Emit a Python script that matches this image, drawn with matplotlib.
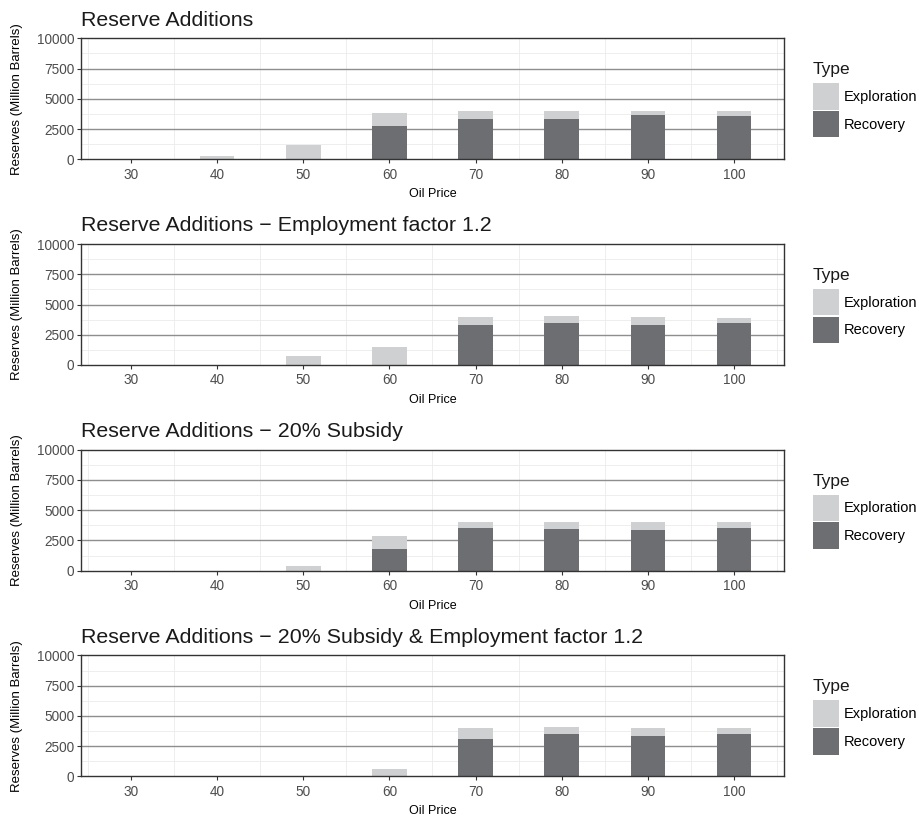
import numpy as np
import matplotlib.pyplot as plt
from matplotlib.patches import Patch

plt.rcParams['font.family'] = ['Liberation Sans', 'DejaVu Sans']

## Dane: przyrost rezerw (mln baryłek) w zależności od ceny ropy
oil_price = ['30', '40', '50', '60', '70', '80', '90', '100']

titles = [
    'Reserve Additions',
    'Reserve Additions \u2212 Employment factor 1.2',
    'Reserve Additions \u2212 20% Subsidy',
    'Reserve Additions \u2212 20% Subsidy & Employment factor 1.2',
]

recovery_base = [0, 0, 0, 2750, 3330, 3330, 3660, 3580]
exploration_base = [0, 300, 1200, 1070, 670, 670, 340, 420]

recovery_emp = [0, 0, 0, 0, 3300, 3470, 3300, 3470]
exploration_emp = [0, 0, 710, 1450, 660, 600, 660, 410]

recovery_sub = [0, 0, 0, 1770, 3540, 3460, 3370, 3540]
exploration_sub = [0, 0, 420, 1095, 490, 575, 660, 490]

recovery_both = [0, 0, 0, 0, 3090, 3510, 3340, 3510]
exploration_both = [0, 0, 0, 650, 930, 590, 670, 510]

recovery_all = [recovery_base, recovery_emp, recovery_sub, recovery_both]
exploration_all = [exploration_base, exploration_emp, exploration_sub, exploration_both]

## Kolory i układ
c_expl = '#CFD0D2'
c_rec = '#6D6E72'
W, H = 920, 818
left, right = 81, 784
panel_h = 121
tops = [38.3, 244.0, 449.7, 655.4]

fig = plt.figure(figsize=(W / 100, H / 100), dpi=100)

x = np.arange(1, len(oil_price) + 1)

for i in range(4):
    top = tops[i]
    ax = fig.add_axes([left / W, 1 - (top + panel_h) / H, (right - left) / W, panel_h / H])

    rec = np.array(recovery_all[i])
    expl = np.array(exploration_all[i])

    # siatka pomocnicza
    for yy in [1250, 3750, 6250, 8750]:
        ax.axhline(yy, color='#EBEBEB', lw=0.6, zorder=0)
    for xx in np.arange(0.5, 9.0, 1.0):
        ax.axvline(xx, color='#EBEBEB', lw=0.6, zorder=0)
    # linie główne
    for yy in [2500, 5000, 7500]:
        ax.axhline(yy, color='#8E8E8E', lw=1.0, zorder=1)

    ax.bar(x, rec, width=0.4, color=c_rec, zorder=2, label='Recovery')
    ax.bar(x, expl, width=0.4, bottom=rec, color=c_expl, zorder=2, label='Exploration')

    ax.set_xlim(0.42, 8.58)
    ax.set_ylim(0, 10000)
    ax.set_xticks(x)
    ax.set_xticklabels(oil_price)
    ax.set_yticks([0, 2500, 5000, 7500, 10000])
    ax.tick_params(axis='both', length=3, width=0.8, color='#333333',
                   labelsize=9.8, labelcolor='#4D4D4D')
    ax.tick_params(axis='x', pad=3)
    ax.tick_params(axis='y', pad=2)
    for s in ax.spines.values():
        s.set_color('#333333')
        s.set_linewidth(1.0)

    ax.set_title(titles[i], loc='left', fontsize=15.4, color='#1A1A1A', pad=9.2)
    ax.set_xlabel('Oil Price', fontsize=9)
    ax.xaxis.set_label_coords(0.5, -0.24)
    ax.set_ylabel('Reserves (Million Barrels)', fontsize=9.5)
    ax.yaxis.set_label_coords((23 - left) / (right - left), 0.5)

    # legenda: tytuł osobno, klucze pod nim
    fig.text(813 / W, 1 - (top + 36) / H, 'Type', fontsize=12.5,
             ha='left', va='baseline', color='#1A1A1A')
    handles = [Patch(facecolor=c_expl, edgecolor='none', label='Exploration'),
               Patch(facecolor=c_rec, edgecolor='none', label='Recovery')]
    ax.legend(handles=handles, loc='upper left',
              bbox_to_anchor=(813 / W, 1 - (top + 45) / H),
              bbox_transform=fig.transFigure, frameon=False,
              fontsize=10.5, borderpad=0, borderaxespad=0,
              handlelength=1.78, handleheight=2.4,
              handletextpad=0.3, labelspacing=0.1)

fig.savefig('out.png', dpi=100)
